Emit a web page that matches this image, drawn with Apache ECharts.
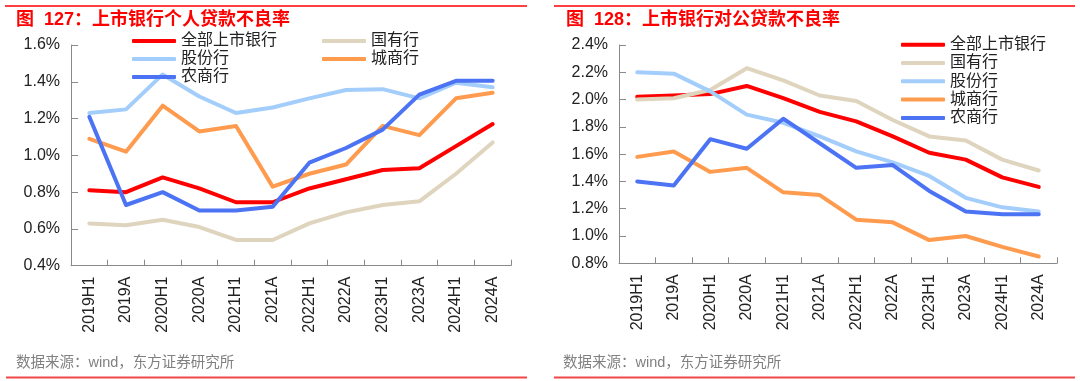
<!DOCTYPE html>
<html>
<head>
<meta charset="utf-8">
<script src="https://cdn.jsdelivr.net/npm/echarts@6/dist/echarts.min.js"></script>
<style>
html,body{margin:0;padding:0;background:#fff;}
#main{width:1080px;height:381px;}
</style>
</head>
<body>
<div id="main"></div>
<script>
// ---- data ----
var categories = ['2019H1','2019A','2020H1','2020A','2021H1','2021A','2022H1','2022A','2023H1','2023A','2024H1','2024A'];
var seriesNames = ['全部上市银行','国有行','股份行','城商行','农商行'];

// 图127 上市银行个人贷款不良率 (%)
var personalAll   = [0.81,0.80,0.88,0.82,0.745,0.745,0.82,0.87,0.92,0.93,1.05,1.17];
var personalState = [0.63,0.62,0.65,0.61,0.54,0.54,0.63,0.69,0.73,0.75,0.90,1.07];
var personalJoint = [1.23,1.25,1.44,1.32,1.23,1.26,1.31,1.355,1.36,1.31,1.395,1.37];
var personalCity  = [1.09,1.02,1.27,1.13,1.16,0.83,0.90,0.95,1.16,1.11,1.31,1.34];
var personalRural = [1.21,0.73,0.80,0.70,0.70,0.72,0.96,1.04,1.14,1.33,1.405,1.405];

// 图128 上市银行对公贷款不良率 (%)
var corpAll   = [2.02,2.03,2.04,2.10,2.01,1.91,1.84,1.73,1.61,1.56,1.43,1.36];
var corpState = [2.00,2.01,2.07,2.23,2.14,2.03,1.99,1.85,1.73,1.70,1.56,1.48];
var corpJoint = [2.20,2.19,2.06,1.89,1.83,1.73,1.62,1.54,1.44,1.28,1.21,1.18];
var corpCity  = [1.58,1.62,1.47,1.50,1.32,1.30,1.12,1.10,0.97,1.00,0.92,0.85];
var corpRural = [1.40,1.37,1.71,1.64,1.86,1.68,1.50,1.52,1.33,1.18,1.16,1.16];

var title1 = '图  127：上市银行个人贷款不良率';
var title2 = '图  128：上市银行对公贷款不良率';
var sourceText = '数据来源：wind，东方证券研究所';

// ---- styles ----
var colors = ['#FF0000','#DFD4BE','#A3CDFB','#FF9B4E','#4B73F4'];
var FONT = "'Liberation Sans','Noto Sans CJK SC',sans-serif";
var axisColor = '#8a8a8a';
var textColor = '#222';

function mkSeries(name, data, idx, gi){
  return {
    name: name, type: 'line', data: data,
    xAxisIndex: gi, yAxisIndex: gi,
    symbol: 'none', showSymbol: false,
    color: colors[idx],
    itemStyle: {color: colors[idx]},
    lineStyle: {width: 4, color: colors[idx], cap: 'round', join: 'round'},
    animation: false
  };
}
var leftData = [personalAll, personalState, personalJoint, personalCity, personalRural];
var rightData = [corpAll, corpState, corpJoint, corpCity, corpRural];
var series = [];
seriesNames.forEach(function(n,i){ series.push(mkSeries(n, leftData[i], i, 0)); });
seriesNames.forEach(function(n,i){ series.push(mkSeries(n, rightData[i], i, 1)); });

function xAxis(gi){
  return {
    type: 'category', gridIndex: gi, data: categories, boundaryGap: true,
    axisLine: {lineStyle: {color: axisColor, width: 1}},
    axisTick: {show: true, inside: true, length: 6, alignWithLabel: false, lineStyle: {color: axisColor}},
    axisLabel: {rotate: 90, margin: 11, color: textColor, fontSize: 16, fontFamily: FONT, interval: 0}
  };
}
function yAxis(gi, mn, mx){
  return {
    type: 'value', gridIndex: gi, min: mn, max: mx, interval: 0.2,
    splitLine: {show: false},
    axisLine: {show: true, lineStyle: {color: axisColor, width: 1}},
    axisTick: {show: true, inside: true, length: 7, lineStyle: {color: axisColor}},
    axisLabel: {margin: 11, color: textColor, fontSize: 16, fontFamily: FONT,
      formatter: function(v){ return v.toFixed(1) + '%'; }}
  };
}
function legend(left, top, names, gap){
  return {
    left: left, top: top, orient: 'vertical', padding: 0,
    icon: 'roundRect',
    itemWidth: 44, itemHeight: 4, itemGap: gap,
    data: names, selectedMode: false,
    textStyle: {fontSize: 16, lineHeight: 16, color: textColor, fontFamily: FONT}
  };
}

var option = {
  backgroundColor: '#fff',
  animation: false,
  title: [
    {text: title1, left: 16, top: 11, padding: 0,
     textStyle: {fontSize: 18, fontWeight: 'bold', color: '#FF0000', fontFamily: FONT}},
    {text: title2, left: 566, top: 11, padding: 0,
     textStyle: {fontSize: 18, fontWeight: 'bold', color: '#FF0000', fontFamily: FONT}},
    {text: sourceText, left: 16, top: 356, padding: 0,
     textStyle: {fontSize: 14.5, fontWeight: 'normal', color: '#808080', fontFamily: FONT}},
    {text: sourceText, left: 563, top: 356, padding: 0,
     textStyle: {fontSize: 14.5, fontWeight: 'normal', color: '#808080', fontFamily: FONT}}
  ],
  legend: [
    legend(132, 33, ['全部上市银行','股份行','农商行'], 2),
    legend(322, 33, ['国有行','城商行'], 2),
    legend(901, 36.7, ['全部上市银行','国有行','股份行','城商行','农商行'], 2.3)
  ],
  grid: [
    {left: 71, top: 45, width: 440, height: 220.7, containLabel: false},
    {left: 619, top: 45, width: 438, height: 218.3, containLabel: false}
  ],
  xAxis: [xAxis(0), xAxis(1)],
  yAxis: [yAxis(0, 0.4, 1.6), yAxis(1, 0.8, 2.4)],
  series: series,
  graphic: [
    {type: 'line', shape: {x1: 5, y1: 6, x2: 527, y2: 6}, style: {stroke: '#FF0000', lineWidth: 1.5}},
    {type: 'line', shape: {x1: 554, y1: 6, x2: 1075, y2: 6}, style: {stroke: '#FF0000', lineWidth: 1.5}},
    {type: 'line', shape: {x1: 6, y1: 377.5, x2: 527, y2: 377.5}, style: {stroke: '#F04848', lineWidth: 2}},
    {type: 'line', shape: {x1: 554, y1: 377.5, x2: 1075, y2: 377.5}, style: {stroke: '#F04848', lineWidth: 2}}
  ]
};

var chart = echarts.init(document.getElementById('main'), null, {renderer: 'canvas'});
chart.setOption(option);
</script>
</body>
</html>
